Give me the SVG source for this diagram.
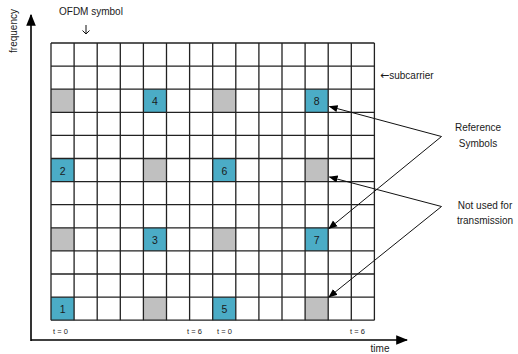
<svg xmlns="http://www.w3.org/2000/svg" width="518" height="354" viewBox="0 0 518 354">
<defs>
<style>
text{font-family:"Liberation Sans",Arial,sans-serif;fill:#1a1a1a}
.lbl{font-size:10px}
.sym{font-family:"DejaVu Sans",sans-serif}
.num{font-size:10.5px;text-anchor:middle}
.t{font-size:7.5px}
.blue{fill:#4bacc6}
.gray{fill:#c0c0c0}
.grid{stroke:#222;stroke-width:1.3;fill:none}
.ptr{stroke:#111;stroke-width:1;fill:none;marker-end:url(#ah)}
.axis{stroke:#000;stroke-width:1.6;fill:none}
</style>
<marker id="ah" viewBox="0 0 10 10" refX="9" refY="5" markerWidth="9" markerHeight="9" markerUnits="userSpaceOnUse" orient="auto">
<path d="M0,1 L10,5 L0,9 Z" fill="#000"/>
</marker>
<marker id="axh" viewBox="0 0 10 10" refX="9" refY="5" markerWidth="12" markerHeight="12" markerUnits="userSpaceOnUse" orient="auto">
<path d="M0,1 L10,5 L0,9 Z" fill="#000"/>
</marker>
</defs>

<g id="axes">
<path class="axis" d="M31,341 L31,15" marker-end="url(#axh)"/>
<path class="axis" d="M31,340 L407,340" marker-end="url(#axh)"/>
<text class="lbl" transform="translate(17,31) rotate(-90)" text-anchor="middle">frequency</text>
<text class="lbl" x="380" y="352" text-anchor="middle" font-size="11">time</text>
</g>

<g id="cells">
<rect class="gray" x="51" y="89.2" width="23.1" height="23.1"/>
<rect class="blue" x="143.4" y="89.2" width="23.1" height="23.1"/>
<rect class="gray" x="212.7" y="89.2" width="23.1" height="23.1"/>
<rect class="blue" x="305.1" y="89.2" width="23.1" height="23.1"/>
<rect class="blue" x="51" y="158.5" width="23.1" height="23.1"/>
<rect class="gray" x="143.4" y="158.5" width="23.1" height="23.1"/>
<rect class="blue" x="212.7" y="158.5" width="23.1" height="23.1"/>
<rect class="gray" x="305.1" y="158.5" width="23.1" height="23.1"/>
<rect class="gray" x="51" y="227.8" width="23.1" height="23.1"/>
<rect class="blue" x="143.4" y="227.8" width="23.1" height="23.1"/>
<rect class="gray" x="212.7" y="227.8" width="23.1" height="23.1"/>
<rect class="blue" x="305.1" y="227.8" width="23.1" height="23.1"/>
<rect class="blue" x="51" y="297.1" width="23.1" height="23.1"/>
<rect class="gray" x="143.4" y="297.1" width="23.1" height="23.1"/>
<rect class="blue" x="212.7" y="297.1" width="23.1" height="23.1"/>
<rect class="gray" x="305.1" y="297.1" width="23.1" height="23.1"/>
</g>

<g id="grid">
<path class="grid" d="M51,43V320.2 M74.1,43V320.2 M97.2,43V320.2 M120.3,43V320.2 M143.4,43V320.2 M166.5,43V320.2 M189.6,43V320.2 M212.7,43V320.2 M235.8,43V320.2 M258.9,43V320.2 M282,43V320.2 M305.1,43V320.2 M328.2,43V320.2 M351.3,43V320.2 M374.4,43V320.2"/>
<path class="grid" d="M51,43H374.4 M51,66.1H374.4 M51,89.2H374.4 M51,112.3H374.4 M51,135.4H374.4 M51,158.5H374.4 M51,181.6H374.4 M51,204.7H374.4 M51,227.8H374.4 M51,250.9H374.4 M51,274H374.4 M51,297.1H374.4 M51,320.2H374.4"/>
</g>

<g id="numbers">
<text class="num" x="62.6" y="313.1">1</text>
<text class="num" x="62.6" y="174.5">2</text>
<text class="num" x="155" y="243.8">3</text>
<text class="num" x="155" y="105.2">4</text>
<text class="num" x="224.3" y="313.1">5</text>
<text class="num" x="224.3" y="174.5">6</text>
<text class="num" x="316.7" y="243.8">7</text>
<text class="num" x="316.7" y="105.2">8</text>
</g>

<g id="labels">
<text class="lbl" x="59" y="15" font-size="9">OFDM symbol</text>
<path d="M86,25 V34 M82.5,30.5 L86,34 L89.5,30.5" stroke="#111" stroke-width="1" fill="none"/>
<text class="lbl" x="380" y="79"><tspan class="sym" font-size="11">←</tspan>subcarrier</text>
<text class="lbl" x="478" y="131" text-anchor="middle">Reference</text>
<text class="lbl" x="478" y="147" text-anchor="middle">Symbols</text>
<text class="lbl" x="485" y="209" text-anchor="middle">Not used for</text>
<text class="lbl" x="485" y="224" text-anchor="middle">transmission</text>
<text class="t" x="53" y="334">t = 0</text>
<text class="t" x="187" y="334">t = 6</text>
<text class="t" x="217" y="334">t = 0</text>
<text class="t" x="350" y="334">t = 6</text>
</g>

<g id="connectors">
<path class="ptr" d="M441.5,136.5 L329.5,106.5"/>
<path class="ptr" d="M441.5,136.5 L329,228.5"/>
<path class="ptr" d="M441.5,206.5 L329.5,177"/>
<path class="ptr" d="M441.5,206.5 L329,297"/>
</g>
</svg>
